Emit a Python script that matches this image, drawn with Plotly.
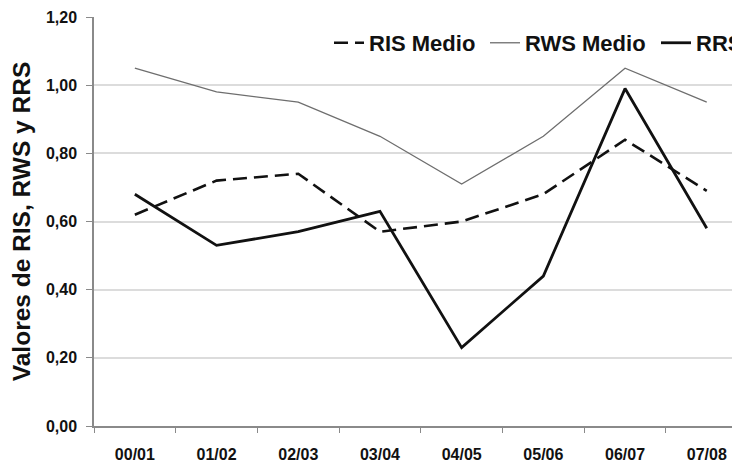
import plotly.graph_objects as go

categories = ["00/01", "01/02", "02/03", "03/04", "04/05", "05/06", "06/07", "07/08"]
ris_medio = [0.62, 0.72, 0.74, 0.57, 0.60, 0.68, 0.84, 0.69]
rws_medio = [1.05, 0.98, 0.95, 0.85, 0.71, 0.85, 1.05, 0.95]
rrs = [0.68, 0.53, 0.57, 0.63, 0.23, 0.44, 0.99, 0.58]
y_ticks = [0, 0.2, 0.4, 0.6, 0.8, 1.0, 1.2]
y_tick_labels = ["0,00", "0,20", "0,40", "0,60", "0,80", "1,00", "1,20"]

FONT = "Liberation Sans, Arial, sans-serif"

fig = go.Figure()
fig.add_trace(go.Scatter(x=categories, y=ris_medio, mode="lines", name="RIS Medio",
                         line=dict(color="#111111", width=2.6, dash="14px,7px"), legend="legend"))
fig.add_trace(go.Scatter(x=categories, y=rws_medio, mode="lines", name="RWS Medio",
                         line=dict(color="#6e6e6e", width=1.3), legend="legend2"))
fig.add_trace(go.Scatter(x=categories, y=rrs, mode="lines", name="RRS",
                         line=dict(color="#111111", width=2.8), legend="legend3"))

# the page body has an 8px margin, so reference pixel p -> figure pixel p - 8
OFF = 8
W, H = 740, 463
ml, mt = 94 - OFF, 17 - OFF
mb = H - (426.5 - OFF)
mr = 0
pw = W - ml - mr
ph = H - mt - mb
spacing = 81.7
xmax = -0.5 + pw / spacing

def lx(px):
    return (px - OFF - ml) / pw

def ly(py):
    return 1 - (py - OFF - mt) / ph

leg_common = dict(orientation="h", bgcolor="rgba(0,0,0,0)", borderwidth=0,
                  font=dict(family=FONT, size=22, color="#111111", weight="bold"),
                  yanchor="middle", y=ly(43), xanchor="left")

fig.update_layout(
    width=W, height=H,
    margin=dict(l=ml, r=mr, t=mt, b=mb, autoexpand=False),
    paper_bgcolor="white", plot_bgcolor="white",
    showlegend=True,
    legend=dict(x=lx(329), **leg_common),
    legend2=dict(x=lx(485), **leg_common),
    legend3=dict(x=lx(656), **leg_common),
    xaxis=dict(
        type="category", range=[-0.5, xmax], automargin=False,
        showline=True, linecolor="#8a8a8a", linewidth=1.5,
        ticks="outside", ticklen=5, tickcolor="#8a8a8a", tickwidth=1.2,
        tickson="boundaries", showgrid=False, zeroline=False,
        tickfont=dict(family=FONT, size=16, color="#111111", weight="bold"),
        ticklabelstandoff=13,
    ),
    yaxis=dict(
        range=[0, 1.2], tickvals=y_ticks, ticktext=y_tick_labels, automargin=False,
        showline=True, linecolor="#8a8a8a", linewidth=1.5,
        ticks="outside", ticklen=6, tickcolor="#8a8a8a", tickwidth=1.2,
        showgrid=True, gridcolor="#dcdcdc", gridwidth=1.5, zeroline=False,
        tickfont=dict(family=FONT, size=16, color="#111111", weight="bold"),
        ticklabelstandoff=6,
        title=dict(text="Valores de RIS, RWS y RRS", standoff=14,
                   font=dict(family=FONT, size=24.5, color="#111111", weight="bold")),
    ),
)

fig.write_html("out.html")
